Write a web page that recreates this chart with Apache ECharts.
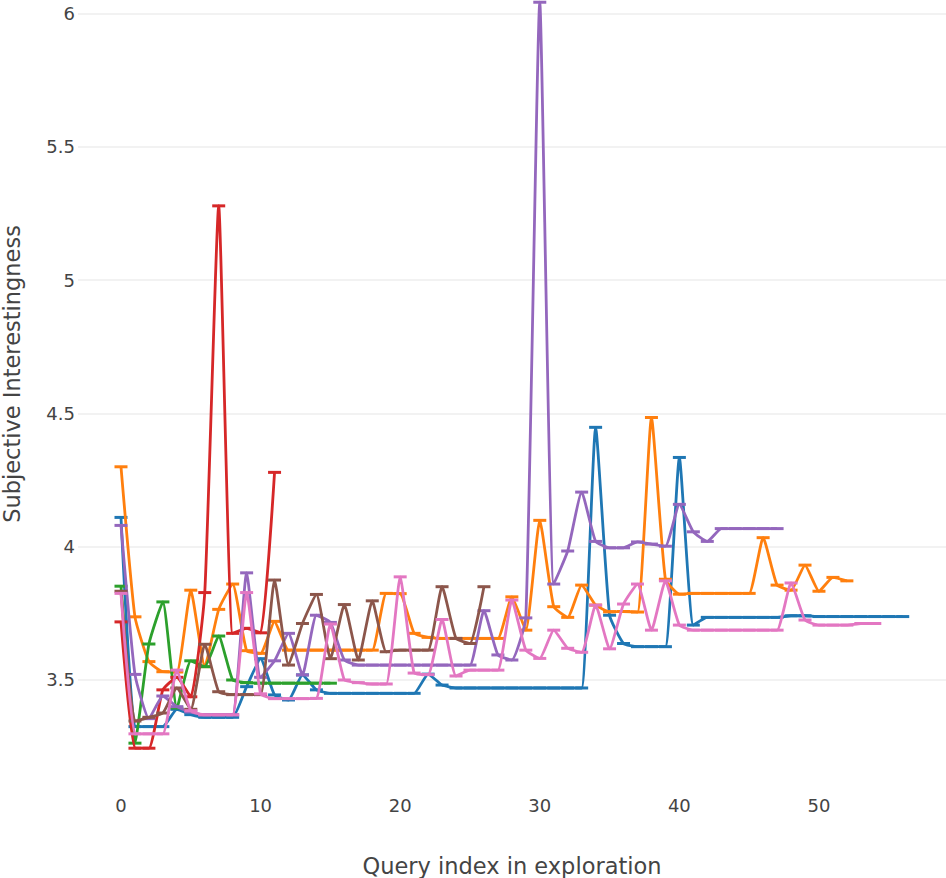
<!DOCTYPE html>
<html>
<head>
<meta charset="utf-8">
<script src="https://cdn.jsdelivr.net/npm/echarts@6/dist/echarts.min.js"></script>
<style>
html,body{margin:0;padding:0;background:#fff;}
#chart{width:946px;height:878px;}
</style>
</head>
<body>
<div id="chart"></div>
<script>
const blueVals = [4.11,3.325,3.325,3.325,3.39,3.37,3.36,3.36,3.36,3.475,3.58,3.444,3.425,3.519,3.463,3.45,3.45,3.45,3.45,3.45,3.45,3.45,3.522,3.481,3.47,3.47,3.47,3.47,3.47,3.47,3.47,3.47,3.47,3.47,4.448,3.743,3.637,3.625,3.625,3.625,4.335,3.706,3.735,3.735,3.735,3.735,3.735,3.735,3.741,3.741,3.738,3.738,3.738,3.738,3.738,3.738,3.738];
const orangeVals = [4.30,3.737,3.569,3.531,3.53,3.837,3.55,3.765,3.86,3.61,3.60,3.72,3.612,3.612,3.612,3.612,3.612,3.612,3.612,3.825,3.824,3.675,3.66,3.656,3.656,3.656,3.656,3.656,3.812,3.687,4.099,3.775,3.735,3.856,3.781,3.756,3.757,3.755,4.485,3.878,3.822,3.825,3.825,3.825,3.825,3.825,4.034,3.856,3.837,3.931,3.833,3.885,3.872];
const greenVals = [3.852,3.263,3.635,3.793,3.395,3.572,3.55,3.665,3.50,3.49,3.488,3.488,3.488,3.488,3.488,3.488];
const redVals = [3.718,3.244,3.244,3.463,3.51,3.437,3.828,5.279,3.675,3.694,3.677,4.279];
const purpleVals = [4.08,3.521,3.355,3.44,3.40,3.38,3.37,3.37,3.37,3.902,3.51,3.572,3.675,3.519,3.743,3.716,3.575,3.556,3.556,3.556,3.556,3.556,3.556,3.556,3.556,3.556,3.76,3.594,3.575,3.733,6.043,3.86,3.984,4.205,4.02,3.996,3.996,4.018,4.01,4.002,4.159,4.056,4.02,4.068,4.068,4.068,4.068,4.068];
const brownVals = [3.833,3.346,3.36,3.376,3.47,3.39,3.634,3.456,3.445,3.445,3.445,3.875,3.556,3.712,3.821,3.58,3.783,3.575,3.797,3.606,3.612,3.612,3.612,3.85,3.656,3.637,3.85];
const pinkVals = [3.825,3.298,3.298,3.298,3.537,3.385,3.369,3.369,3.369,3.828,3.448,3.43,3.43,3.43,3.431,3.71,3.50,3.49,3.485,3.485,3.887,3.526,3.52,3.727,3.515,3.537,3.537,3.537,3.80,3.612,3.581,3.687,3.619,3.604,3.781,3.617,3.785,3.86,3.687,3.872,3.706,3.687,3.687,3.687,3.687,3.687,3.687,3.687,3.864,3.725,3.706,3.706,3.706,3.712,3.712];

const seriesVals = [blueVals, orangeVals, greenVals, redVals, purpleVals, brownVals, pinkVals];
const seriesColors = ['#1f77b4','#ff7f0e','#2ca02c','#d62728','#9467bd','#8c564b','#e377c2'];
const xTickLabels = [0,10,20,30,40,50];
const yTickLabels = [3.5,4,4.5,5,5.5,6];

const FONT = '"DejaVu Sans", Verdana, sans-serif';

const chart = echarts.init(document.getElementById('chart'), null, {renderer:'svg'});
chart.setOption({
  animation: false,
  backgroundColor: '#fff',
  grid: {left: 78, right: 0, top: 0, bottom: 91.4, containLabel: false, outerBoundsMode: 'none'},
  xAxis: {
    type: 'value',
    min: -3.08, max: 59.1,
    name: 'Query index in exploration',
    nameLocation: 'middle',
    nameGap: 68,
    nameTextStyle: {color:'#444', fontSize:22.5, fontFamily: FONT},
    axisLine: {show:false}, axisTick: {show:false}, splitLine: {show:false},
    axisLabel: {
      color:'#444', fontSize:18, fontFamily: FONT, margin: 10,
      showMinLabel:false, showMaxLabel:false,
      formatter: v => xTickLabels.some(t => Math.abs(t - v) < 1e-6) ? String(v) : ''
    }
  },
  yAxis: {
    type: 'value',
    min: 3.1, max: 6.0514,
    axisLine: {show:false}, axisTick: {show:false},
    splitLine: {show:true, showMinLine:false, showMaxLine:false, lineStyle:{color:'#eeeeee', width:1.5}},
    axisLabel: {
      color:'#444', fontSize:18, fontFamily: FONT, margin: 3,
      showMinLabel:false, showMaxLabel:false,
      formatter: v => yTickLabels.some(t => Math.abs(t - v) < 1e-6) ? String(v) : ''
    }
  },
  graphic: [{
    type: 'text',
    x: 12, y: 374,
    rotation: Math.PI / 2,
    style: {
      text: 'Subjective Interestingness',
      fill: '#444', fontSize: 22.5, fontFamily: FONT,
      align: 'center', verticalAlign: 'middle'
    }
  }],
  series: seriesVals.map((vals, k) => ({
    type: 'line',
    data: vals.map((v, i) => [i, v]),
    smooth: 0.15,
    showAllSymbol: true,
    symbol: 'rect',
    symbolSize: [13, 3],
    itemStyle: {color: seriesColors[k]},
    lineStyle: {color: seriesColors[k], width: 2.8},
    clip: false,
    z: 2 + k
  }))
});
</script>
</body>
</html>
